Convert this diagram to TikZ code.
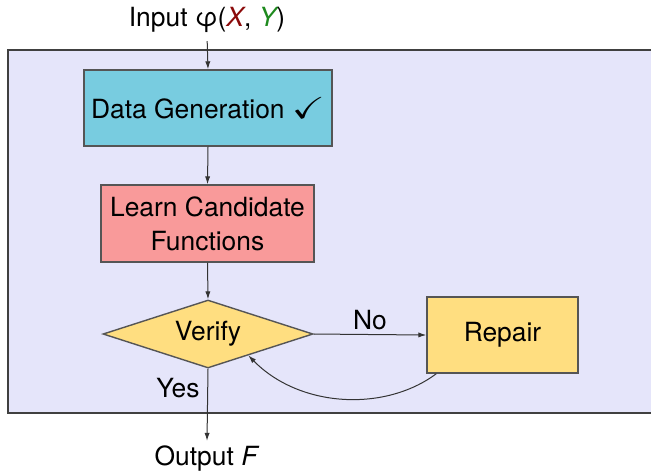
\documentclass[tikz,border=0pt]{standalone}
\usepackage{amssymb}
\usepackage{graphicx}
\usepackage{fontspec}
\setmainfont{TeX Gyre Heros}
\usetikzlibrary{shapes.geometric,arrows.meta}
\definecolor{panel}{HTML}{E5E5FA}
\definecolor{genfill}{HTML}{78CCE0}
\definecolor{learnfill}{HTML}{F99A9A}
\definecolor{goldfill}{HTML}{FFDE80}
\definecolor{xred}{HTML}{8B0A0A}
\definecolor{ygreen}{HTML}{1E8A1E}
\definecolor{edge}{HTML}{555555}
\begin{document}
\begin{tikzpicture}[x=0.5pt,y=-0.5pt,
  font=\fontsize{13.2}{17}\selectfont,
  box/.style={draw=edge,line width=0.7pt,inner sep=0pt,align=center},
  arr/.style={draw=black!80,line width=0.5pt,-{Latex[length=4pt,width=2.6pt]}},
  lbl/.style={inner sep=2pt}]
\useasboundingbox (0,0) rectangle (651,473);
\clip (0,0) rectangle (651,473);
% background panel around the loop
\draw[fill=panel,draw=black!75,line width=1pt] (8,50) rectangle (670,413);
% blocks
\node[lbl,inner sep=1pt] (in) at (207,20) {Input φ(\textit{\color{xred}X}, \textit{\color{ygreen}Y})};
\node[box,fill=genfill,minimum width=124pt,minimum height=38pt] (dg) at (208,108) {Data Generation \scalebox{1.5}[1.15]{$\checkmark$}};
\node[box,fill=learnfill,minimum width=106.5pt,minimum height=38.5pt] (lc) at (207.5,223.5) {Learn Candidate\\Functions};
\node[box,diamond,fill=goldfill,aspect=3.1,minimum width=105pt,minimum height=34pt] (ver) at (208,334) {Verify};
\node[box,fill=goldfill,minimum width=75.5pt,minimum height=38pt] (rep) at (502.5,335) {Repair};
\node[lbl] (out) at (207,458) {Output \textit{F}};
% connectors
\draw[arr,shorten <=3pt] (in.south) -- (dg.north);
\draw[arr] (dg.south) -- (lc.north);
\draw[arr] (lc.south) -- (ver.north);
\draw[arr] (ver.east) -- node[above,lbl,pos=0.5] (no) {No} (rep.west);
\draw[arr] ([xshift=5pt]rep.south west) .. controls (385,412) and (300,408) .. (ver.-28);
\draw[arr] (ver.south) -- (out.north);
\node[lbl] (yes) at (178,388) {Yes};
\end{tikzpicture}
\end{document}
